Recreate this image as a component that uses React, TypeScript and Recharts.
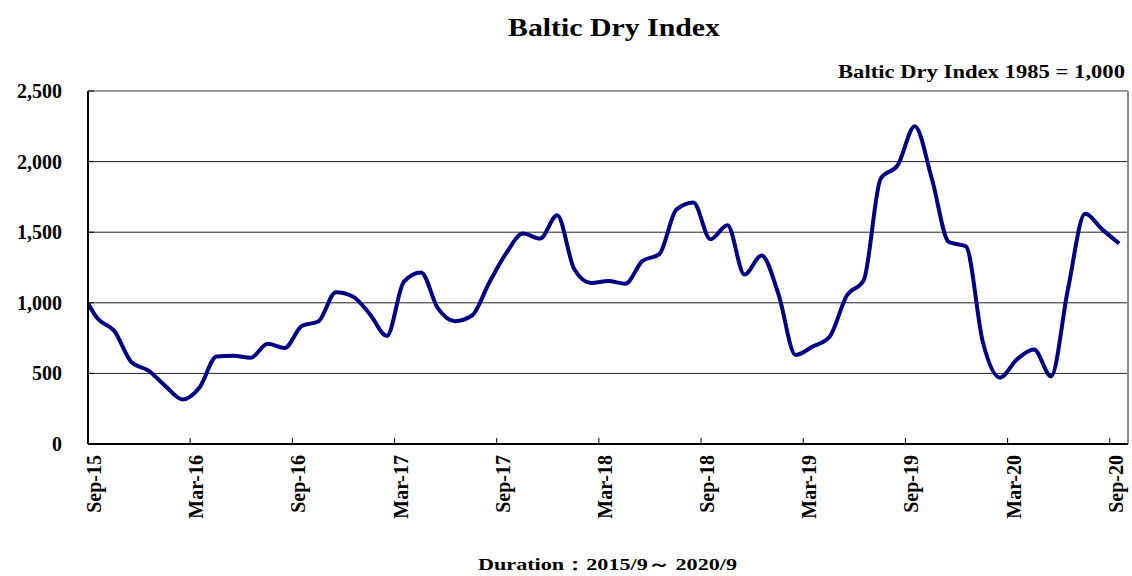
import { LineChart, Line, XAxis, YAxis, CartesianGrid, ReferenceLine } from "recharts"

// month offsets from Sep-15 where the axis is labelled
const tickMonths = [0, 6, 12, 18, 24, 30, 36, 42, 48, 54, 60]
const tickLabels = ["Sep-15", "Mar-16", "Sep-16", "Mar-17", "Sep-17", "Mar-18", "Sep-18", "Mar-19", "Sep-19", "Mar-20", "Sep-20"]
const yTicks = [0, 500, 1000, 1500, 2000, 2500]

// value where the curve meets the y axis
const startValue = 995
// monthly BDI, Sep-15 .. Sep-20
const bdi = [
  890, 800, 580, 520, 410, 315, 400, 620, 625, 610, 710, 680,
  835, 870, 1075, 1045, 920, 765, 1150, 1215, 960, 870, 910, 1140,
  1350, 1490, 1455, 1620, 1240, 1140, 1155, 1135, 1295, 1345, 1660, 1710,
  1450, 1550, 1200, 1335, 1060, 630, 690, 760, 1050, 1160, 1880, 1975,
  2250, 1880, 1430, 1400, 720, 470, 600, 670, 480, 1100, 1630, 1520,
  1420,
]

const xMax = 61.07
const font = "Liberation Serif, Times New Roman, serif"
const bold = { fontFamily: font, fontWeight: 700 }

const data = [{ m: 0, v: startValue }, ...bdi.map((v, i) => ({ m: i + 0.55, v }))]

function XTick(props: any) {
  const { x, y, payload } = props
  const label = tickLabels[tickMonths.indexOf(payload.value)]
  return (
    <g>
      <line x1={x} x2={x} y1={y} y2={y - 6} stroke="#000" />
      <text
        transform={`translate(${x + 13},${y + 11}) rotate(-90)`}
        textAnchor="end"
        style={{ ...bold, fontSize: 20 }}
        fill="#000"
      >
        {label}
      </text>
    </g>
  )
}

function YTick(props: any) {
  const { x, y, payload } = props
  return (
    <g>
      <line x1={x} x2={x + 6} y1={y} y2={y} stroke="#000" />
      <text x={x - 26} y={y} dy="0.35em" textAnchor="end" style={{ ...bold, fontSize: 20 }} fill="#000">
        {payload.value.toLocaleString("en-US")}
      </text>
    </g>
  )
}

export default function App() {
  return (
    <div style={{ position: "absolute", left: 0, top: 0, width: 1132, height: 576, background: "#fff" }}>
      <LineChart width={1132} height={576} data={data} margin={{ top: 91, right: 4, bottom: 0, left: 0 }}>
        <CartesianGrid vertical={false} stroke="#222" />
        <XAxis
          dataKey="m"
          type="number"
          domain={[0, xMax]}
          allowDataOverflow
          ticks={tickMonths}
          interval={0}
          height={132}
          tickSize={0}
          tickMargin={0}
          tick={<XTick />}
          axisLine={{ stroke: "#000", strokeWidth: 2 }}
        />
        <YAxis
          type="number"
          domain={[0, 2500]}
          ticks={yTicks}
          interval={0}
          width={88}
          tickSize={0}
          tickMargin={0}
          tick={<YTick />}
          axisLine={{ stroke: "#000", strokeWidth: 2 }}
        />
        <ReferenceLine y={2500} stroke="#9a9a9a" strokeWidth={2} />
        <ReferenceLine x={xMax} stroke="#8a8a8a" strokeWidth={2} />
        <Line
          type="monotone"
          dataKey="v"
          stroke="#000080"
          strokeWidth={4}
          dot={false}
          isAnimationActive={false}
        />
      </LineChart>
      <svg width={1132} height={576} style={{ position: "absolute", left: 0, top: 0, pointerEvents: "none" }}>
        <text x={508} y={36} style={{ ...bold, fontSize: 26 }} textLength={212} lengthAdjust="spacingAndGlyphs">
          Baltic Dry Index
        </text>
        <text x={838} y={78} style={{ ...bold, fontSize: 18 }} textLength={287} lengthAdjust="spacingAndGlyphs">
          Baltic Dry Index 1985 = 1,000
        </text>
        <text x={478} y={570} style={{ ...bold, fontSize: 17 }} textLength={259} lengthAdjust="spacingAndGlyphs">
          Duration：2015/9～ 2020/9
        </text>
      </svg>
    </div>
  )
}
